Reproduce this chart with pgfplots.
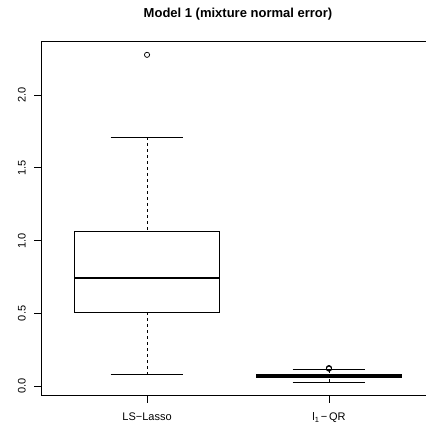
\documentclass[border=0pt]{standalone}
\usepackage{fontspec}
\setmainfont{Liberation Sans}
\usepackage{pgfplots}
\pgfplotsset{compat=1.18}
\usepgfplotslibrary{statistics}

\begin{document}
\fontsize{11}{13}\selectfont
\begin{tikzpicture}[lab/.style={font=\fontsize{11}{13}\selectfont, inner sep=0pt, anchor=base}]
\begin{axis}[
    scale only axis,
    width=393pt, height=354.7pt,
    xmin=0.42, xmax=2.58,
    ymin=-0.0645, ymax=2.37,
    clip=false,
    axis line style={line width=0.75pt},
    xtick={1,2}, xticklabels={},
    ytick={0,0.5,1,1.5,2}, yticklabels={},
    tick align=outside,
    tick pos=left,
    major tick length=7pt,
    tick style={black, line width=0.75pt},
    title={\bfseries\fontsize{13}{15}\selectfont Model 1 (mixture normal error)},
    title style={anchor=base, yshift=17pt},
    boxplot/draw direction=y,
    boxplot/every median/.style={line width=2.2pt},
    boxplot/every box/.style={draw=black, line width=0.75pt},
    boxplot/draw/lower whisker/.code={
        \draw[line width=0.75pt, dash pattern=on 3pt off 3pt]
            (boxplot box cs:\pgfplotsboxplotvalue{lower whisker},0.5) --
            (boxplot box cs:\pgfplotsboxplotvalue{lower quartile},0.5);
        \draw[line width=0.75pt]
            (boxplot whisker cs:\pgfplotsboxplotvalue{lower whisker},0) --
            (boxplot whisker cs:\pgfplotsboxplotvalue{lower whisker},1);
    },
    boxplot/draw/upper whisker/.code={
        \draw[line width=0.75pt, dash pattern=on 3pt off 3pt]
            (boxplot box cs:\pgfplotsboxplotvalue{upper whisker},0.5) --
            (boxplot box cs:\pgfplotsboxplotvalue{upper quartile},0.5);
        \draw[line width=0.75pt]
            (boxplot whisker cs:\pgfplotsboxplotvalue{upper whisker},0) --
            (boxplot whisker cs:\pgfplotsboxplotvalue{upper whisker},1);
    },
]
% LS-Lasso
\addplot+[black, solid, line width=0.75pt, mark=o, mark size=2.6pt,
    mark options={solid, black, line width=0.75pt},
    boxplot prepared={draw position=1,
        lower whisker=0.08, lower quartile=0.51, median=0.745,
        upper quartile=1.06, upper whisker=1.71,
        box extend=0.8, whisker extend=0.4}]
    coordinates {(0,2.275)};
% l1-QR
\addplot+[black, solid, line width=0.75pt, mark=o, mark size=2.6pt,
    mark options={solid, black, line width=0.75pt},
    boxplot prepared={draw position=2,
        lower whisker=0.03, lower quartile=0.062, median=0.073,
        upper quartile=0.084, upper whisker=0.114,
        box extend=0.8, whisker extend=0.4}]
    coordinates {(0,0.121) (0,0.123) (0,0.125)};
% tick labels
\node[lab] at ([yshift=-24.3pt]axis cs:1,-0.0645) {LS−Lasso};
\node[lab] at ([yshift=-24.3pt]axis cs:2,-0.0645)
    {l\raisebox{-0.35ex}{\fontsize{7.5}{8}\selectfont 1}\,−\,QR};
\node[lab, rotate=90] at ([xshift=-15.8pt]axis cs:0.42,0) {0.0};
\node[lab, rotate=90] at ([xshift=-15.8pt]axis cs:0.42,0.5) {0.5};
\node[lab, rotate=90] at ([xshift=-15.8pt]axis cs:0.42,1) {1.0};
\node[lab, rotate=90] at ([xshift=-15.8pt]axis cs:0.42,1.5) {1.5};
\node[lab, rotate=90] at ([xshift=-15.8pt]axis cs:0.42,2) {2.0};
\coordinate (ll) at (rel axis cs:0,0);
\end{axis}
\pgfresetboundingbox
\useasboundingbox ([shift={(-41.5pt,-34.3pt)}]ll) rectangle ++(425pt,430pt);
\end{tikzpicture}
\end{document}
